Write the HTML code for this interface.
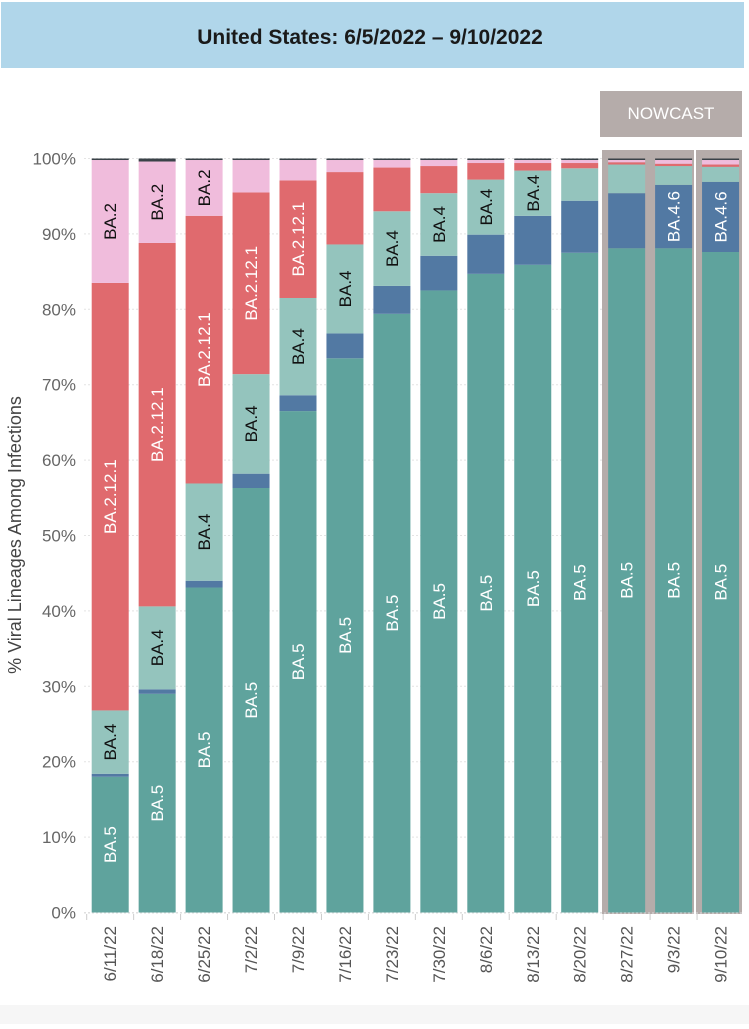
<!DOCTYPE html>
<html><head><meta charset="utf-8"><style>
html,body{margin:0;padding:0;background:#fff;}
body{width:749px;height:1024px;overflow:hidden;font-family:"Liberation Sans",sans-serif;}
</style></head><body>
<svg id="chart" width="749" height="1024" xmlns="http://www.w3.org/2000/svg" font-family="Liberation Sans, sans-serif">
<rect x="1" y="2" width="743" height="66" fill="#b0d6ea"/>
<text x="370" y="44" text-anchor="middle" font-size="21" font-weight="bold" fill="#1a1a1a">United States: 6/5/2022 – 9/10/2022</text>
<rect x="0" y="1005" width="749" height="19" fill="#f6f6f6"/>
<g id="grid"></g>
<rect x="600" y="91" width="142" height="46" fill="#b5acaa"/>
<text x="671" y="119" text-anchor="middle" font-size="17" fill="#fff">NOWCAST</text>
<rect x="602" y="150" width="92" height="764" fill="#b5acaa"/>
<rect x="696" y="150" width="46" height="764" fill="#b5acaa"/>
<g id="bars"></g>
<g id="labels"></g>
<g id="axes"></g>
<text transform="translate(21,535) rotate(-90)" text-anchor="middle" font-size="18" fill="#444">% Viral Lineages Among Infections</text>
</svg>
<script>
const categories=["6/11/22","6/18/22","6/25/22","7/2/22","7/9/22","7/16/22","7/23/22","7/30/22","8/6/22","8/13/22","8/20/22","8/27/22","9/3/22","9/10/22"];
const lineages=["BA.5","BA.4.6","BA.4","BA.2.12.1","BA.2","Other"];
const ba5=[18.0,29.0,43.1,56.3,66.5,73.5,79.4,82.5,84.7,85.9,87.5,88.1,88.1,87.6];
const ba46=[0.4,0.6,0.9,1.9,2.1,3.3,3.7,4.6,5.2,6.5,6.9,7.3,8.4,9.3];
const ba4=[8.4,11.0,12.9,13.2,12.9,11.8,9.9,8.3,7.3,6.0,4.3,3.8,2.5,2.0];
const ba2121=[56.7,48.2,35.5,24.1,15.6,9.6,5.8,3.6,2.2,1.0,0.7,0.3,0.3,0.3];
const ba2=[16.3,10.8,7.4,4.3,2.7,1.6,1.0,0.8,0.4,0.4,0.4,0.3,0.5,0.6];
const other=[0.2,0.4,0.2,0.2,0.2,0.2,0.2,0.2,0.2,0.2,0.2,0.2,0.2,0.2];
const yTicks=[0,10,20,30,40,50,60,70,80,90,100];
const series=[ba5,ba46,ba4,ba2121,ba2,other];
const colors=["#5fa39d","#5279a3","#94c4bd","#e06a6e","#f0bcdc","#3a4248"];
const textColors=["#fff","#fff","#111","#fff","#111","#fff"];
const NS="http://www.w3.org/2000/svg";
const y=v=>912.5-v*7.54;
const x=i=>91.7+i*46.95;
const bw=37;
function mk(tag,attrs,parent){const e=document.createElementNS(NS,tag);for(const k in attrs)e.setAttribute(k,attrs[k]);parent.appendChild(e);return e;}
const grid=document.getElementById('grid'),bars=document.getElementById('bars'),labels=document.getElementById('labels'),axes=document.getElementById('axes');
yTicks.forEach(t=>{
  const l=mk('line',{x1:84,x2:742,y1:y(t),y2:y(t),stroke:'#e4e4e4','stroke-dasharray':'2,2'},grid);
  
  
  const tx=mk('text',{x:76,y:y(t)+6,'text-anchor':'end','font-size':'17',fill:'#666'},axes);
  tx.textContent=t+'%';
  
  
});
const ctx=document.createElement('canvas').getContext('2d');
ctx.font='17px "Liberation Sans"';
categories.forEach((c,i)=>{
  let acc=0;
  series.forEach((s,k)=>{
    const v=s[i];const y0=y(acc),y1=y(acc+v);acc+=v;
    const r=mk('rect',{x:x(i),y:y1,width:bw,height:Math.max(0,y0-y1),fill:colors[k]},bars);
    
    
    const tw=ctx.measureText(lineages[k]).width;
    if(k<5 && (y0-y1)>tw*1.2){
      const cy=(y0+y1)/2;
      const t=mk('text',{transform:`translate(${x(i)+bw/2+6},${cy}) rotate(-90)`,'text-anchor':'middle','font-size':'17',fill:textColors[k]},labels);
      t.textContent=lineages[k];
      
      
    }
  });
  const tk=mk('line',{x1:x(i)-5,x2:x(i)-5,y1:914,y2:920,stroke:'#ccc'},axes);
  
  
  const lt=mk('text',{transform:`translate(${x(i)+bw/2+6},926) rotate(-90)`,'text-anchor':'end','font-size':'17',fill:'#555'},axes);
  lt.textContent=c;
  
  
});
const ax=mk('line',{x1:84,x2:742,y1:913,y2:913,stroke:'#ddd','stroke-dasharray':'2,2'},axes);


</script>
</body></html>
